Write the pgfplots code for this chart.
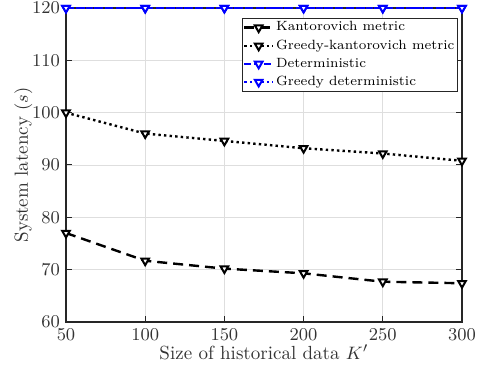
\documentclass[border=0pt]{standalone}
\usepackage{pgfplots}
\pgfplotsset{compat=1.18}
\definecolor{axisgray}{gray}{0.15}
\definecolor{gridgray}{gray}{0.87}
\begin{document}
\begin{tikzpicture}
\begin{axis}[
  scale only axis,
  width=198pt, height=157pt,
  xmin=50, xmax=300, ymin=60, ymax=120,
  xtick={50,100,...,300},
  ytick={60,70,...,120},
  tick align=inside,
  tick pos=both,
  major tick length=3pt,
  axis line style={axisgray, line width=0.6pt},
  tick style={axisgray, line width=0.5pt},
  grid=major,
  major grid style={gridgray, line width=0.4pt},
  ticklabel style={font=\fontsize{9.2}{11}\selectfont, text=black!80},
  yticklabel style={xshift=0.5pt},
  xlabel={Size of historical data $K'$},
  ylabel={System latency $(s)$},
  label style={font=\fontsize{9.5}{11}\selectfont, text=black!80},
  xlabel style={yshift=5pt},
  ylabel style={yshift=-7pt},
  legend cell align=left,
  legend style={at={(rel axis cs:0.99,0.968)}, anchor=north east,
    font=\fontsize{6.7}{8}\selectfont, draw=axisgray, line width=0.5pt,
    inner xsep=0.5pt, inner ysep=0.5pt, row sep=0.9pt,
    nodes={inner xsep=1pt, inner ysep=1pt}},
  legend image code/.code={%
    \draw[mark repeat=2,mark phase=2] plot coordinates {(0cm,0cm)(0.25cm,0cm)(0.5cm,0cm)};},
  every axis plot/.append style={line width=1.2pt},
  mark options={solid, fill=white, rotate=180, scale=1.1, line width=1pt},
]
\addplot[black, dash pattern=on 5pt off 3pt, mark=triangle*] coordinates {
  (50,77.0) (100,71.7) (150,70.2) (200,69.3) (250,67.7) (300,67.4)};
\addlegendentry{Kantorovich metric}
\addplot[black, dash pattern=on 1.2pt off 1.6pt, mark=triangle*] coordinates {
  (50,100.0) (100,96.0) (150,94.6) (200,93.2) (250,92.2) (300,90.8)};
\addlegendentry{Greedy-kantorovich metric}
\addplot[blue, dash pattern=on 3.5pt off 1.5pt, mark=triangle*] coordinates {
  (50,120) (100,120) (150,120) (200,120) (250,120) (300,120)};
\addlegendentry{Deterministic}
\addplot[blue, dash pattern=on 1.2pt off 1.6pt, mark=triangle*] coordinates {
  (50,120) (100,120) (150,120) (200,120) (250,120) (300,120)};
\addlegendentry{Greedy deterministic}
\end{axis}
% fixed page frame around the axis
\pgfresetboundingbox
\path ([shift={(-33pt,-25pt)}]current axis.south west) rectangle ([shift={(12.5pt,4pt)}]current axis.north east);
\end{tikzpicture}
\end{document}
